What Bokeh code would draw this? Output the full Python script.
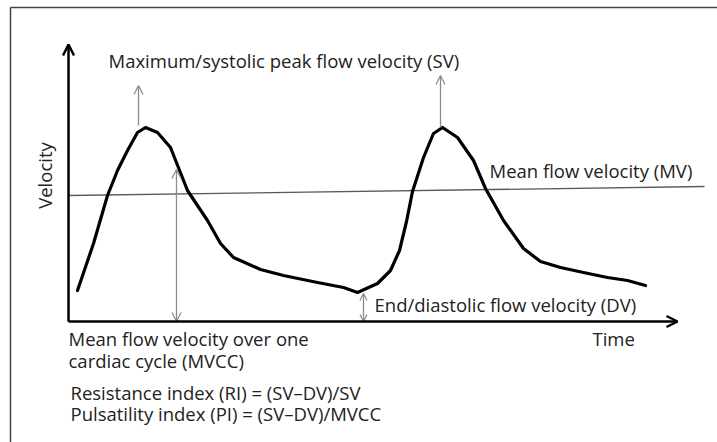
from bokeh.plotting import figure
from bokeh.models import Range1d, Arrow, OpenHead, Label
from bokeh.embed import file_html
from bokeh.resources import INLINE
import math

# ---- data (arbitrary units: time, velocity) ----
time = [0.09, 0.25, 0.39, 0.49, 0.59, 0.69, 0.77, 0.89, 1.02, 1.19, 1.39, 1.52, 1.65,
        1.92, 2.15, 2.49, 2.75, 2.89, 3.09, 3.22, 3.31, 3.38, 3.44, 3.55, 3.65, 3.74,
        3.89, 4.05, 4.17, 4.35, 4.55, 4.72, 4.92, 5.15, 5.39, 5.59, 5.77]
velocity = [0.31, 0.78, 1.26, 1.51, 1.71, 1.89, 1.94, 1.89, 1.74, 1.31, 1.01, 0.78, 0.64,
            0.52, 0.46, 0.39, 0.34, 0.29, 0.38, 0.51, 0.71, 1.00, 1.30, 1.64, 1.88, 1.94,
            1.84, 1.61, 1.33, 1.01, 0.73, 0.60, 0.54, 0.49, 0.44, 0.41, 0.36]
mean_t = [0.0, 6.36]
mean_v = [1.26, 1.35]
sv_t = [0.70, 3.72]
sv_v = [1.96, 1.94]
sv_tip = [2.36, 2.46]
mvcc_t = 1.08
mvcc_v = 1.52
dv_t = 2.95
dv_v = 0.28

FONT = "Open Sans"
FS = "18.5px"
TXT = "#222222"
GRAY = "#8c8c8c"
DY = 0.08  # text lift

p = figure(width=717, height=442, output_backend="svg", toolbar_location=None,
           x_range=Range1d(-0.68, 6.49), y_range=Range1d(-1.21, 3.21),
           x_axis_type=None, y_axis_type=None, min_border=0)
p.grid.visible = False
p.outline_line_color = None
p.background_fill_color = "white"
p.border_fill_color = "white"

# frame (top and left edges visible)
p.segment(x0=[-0.58, -0.58], y0=[3.14, 3.14], x1=[6.49, -0.58], y1=[3.14, -1.21],
          line_color="#444444", line_width=1.5)

# mean velocity line
p.line(mean_t, mean_v, line_color="#5a5a5a", line_width=1.3)

# gray arrows
for t, v0, v1 in zip(sv_t, sv_v, sv_tip):
    p.add_layout(Arrow(x_start=t, y_start=v0, x_end=t, y_end=v1,
                       end=OpenHead(size=9, line_color=GRAY, line_width=1.3),
                       line_color=GRAY, line_width=1.3))
p.add_layout(Arrow(x_start=mvcc_t, y_start=mvcc_v, x_end=mvcc_t, y_end=0.0,
                   start=OpenHead(size=9, line_color=GRAY, line_width=1.3),
                   end=OpenHead(size=9, line_color=GRAY, line_width=1.3),
                   line_color=GRAY, line_width=1.3))
p.add_layout(Arrow(x_start=dv_t, y_start=dv_v, x_end=dv_t, y_end=0.0,
                   start=OpenHead(size=7, line_color=GRAY, line_width=1.3),
                   end=OpenHead(size=7, line_color=GRAY, line_width=1.3),
                   line_color=GRAY, line_width=1.3))

# axes with arrows
p.add_layout(Arrow(x_start=0, y_start=0, x_end=0, y_end=2.77,
                   end=OpenHead(size=11, line_color="black", line_width=2.5),
                   line_color="black", line_width=2.5))
p.add_layout(Arrow(x_start=0, y_start=0, x_end=6.09, y_end=0,
                   end=OpenHead(size=11, line_color="black", line_width=2.5),
                   line_color="black", line_width=2.5))

# velocity curve
p.line(time, velocity, line_color="black", line_width=3.2, line_join="round", line_cap="round")

def lab(x, y, text, **kw):
    p.add_layout(Label(x=x, y=y + DY, text=text, text_font=FONT, text_font_size=FS,
                       text_color=TXT, text_baseline="alphabetic", **kw))

lab(0.40, 2.53, "Maximum/systolic peak flow velocity (SV)")
lab(4.21, 1.43, "Mean flow velocity (MV)")
lab(3.06, 0.09, "End/diastolic flow velocity (DV)")
lab(5.24, -0.25, "Time")
lab(0.0, -0.25, "Mean flow velocity over one")
lab(0.0, -0.47, "cardiac cycle (MVCC)")
lab(0.02, -0.79, "Resistance index (RI) = (SV\u2013DV)/SV")
lab(0.02, -1.00, "Pulsatility index (PI) = (SV\u2013DV)/MVCC")
p.add_layout(Label(x=-0.24, y=1.46, text="Velocity", text_font=FONT, text_font_size=FS,
                   text_color=TXT, text_baseline="middle", text_align="center",
                   angle=math.pi / 2))

open("out.html", "w").write(file_html(p, INLINE))
